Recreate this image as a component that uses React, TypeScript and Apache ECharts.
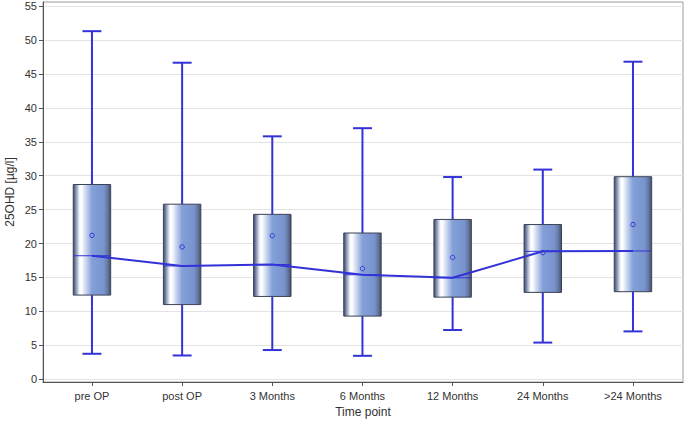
import React, { useEffect, useRef } from "react";
import * as echarts from "echarts";

const categories = ["pre OP", "post OP", "3 Months", "6 Months", "12 Months", "24 Months", ">24 Months"];
const whiskerLow = [3.75, 3.5, 4.3, 3.45, 7.25, 5.4, 7.05];
const q1 = [12.4, 11.0, 12.2, 9.3, 12.1, 12.8, 12.9];
const median = [18.2, 16.7, 16.9, 15.4, 14.95, 18.85, 18.9];
const q3 = [28.7, 25.8, 24.3, 21.55, 23.55, 22.8, 29.85];
const whiskerHigh = [51.3, 46.65, 35.8, 37.0, 29.8, 30.9, 46.8];
const mean = [21.2, 19.5, 21.15, 16.3, 17.95, 18.65, 22.8];
const yTicks = [0, 5, 10, 15, 20, 25, 30, 35, 40, 45, 50, 55];

const BLUE = "#3232d8";
const FONT = "Liberation Sans, Arial, sans-serif";

export default function App() {
  const ref = useRef<HTMLDivElement>(null);
  useEffect(() => {
    if (!ref.current) return;
    const chart = echarts.init(ref.current, null, { renderer: "svg" });
    const idx = categories.map((_, i) => i);
    const boxData = idx.map((i) => [i, whiskerLow[i], q1[i], median[i], q3[i], whiskerHigh[i], mean[i]]);
    const renderItem = (params: any, api: any) => {
      const x = api.value(0);
      const pLow = api.coord([x, api.value(1)]);
      const pQ1 = api.coord([x, api.value(2)]);
      const pMed = api.coord([x, api.value(3)]);
      const pQ3 = api.coord([x, api.value(4)]);
      const pHigh = api.coord([x, api.value(5)]);
      const pMean = api.coord([x, api.value(6)]);
      const halfW = api.size([0.415, 0])[0] / 2;
      const capHalf = api.size([0.21, 0])[0] / 2;
      const cx = pMed[0];
      const lineStyle = { stroke: BLUE, lineWidth: 2 };
      const grad = new echarts.graphic.LinearGradient(0, 0, 1, 0, [
        { offset: 0, color: "#3f4966" },
        { offset: 0.05, color: "#6d7ca0" },
        { offset: 0.17, color: "#f6f8fc" },
        { offset: 0.22, color: "#ffffff" },
        { offset: 0.5, color: "#84a0d8" },
        { offset: 0.82, color: "#7893cd" },
        { offset: 0.92, color: "#63779f" },
        { offset: 1, color: "#454f6a" },
      ]);
      return {
        type: "group",
        children: [
          { type: "line", shape: { x1: cx, y1: pQ3[1], x2: cx, y2: pHigh[1] }, style: lineStyle },
          { type: "line", shape: { x1: cx, y1: pQ1[1], x2: cx, y2: pLow[1] }, style: lineStyle },
          { type: "line", shape: { x1: cx - capHalf, y1: pHigh[1], x2: cx + capHalf, y2: pHigh[1] }, style: lineStyle },
          { type: "line", shape: { x1: cx - capHalf, y1: pLow[1], x2: cx + capHalf, y2: pLow[1] }, style: lineStyle },
          {
            type: "rect",
            shape: { x: cx - halfW, y: pQ3[1], width: halfW * 2, height: pQ1[1] - pQ3[1] },
            style: { fill: grad, stroke: "#3c4356", lineWidth: 1 },
          },
          { type: "line", shape: { x1: cx - halfW, y1: pMed[1], x2: cx + halfW, y2: pMed[1] }, style: { stroke: BLUE, lineWidth: 1 } },
          { type: "circle", shape: { cx: pMean[0], cy: pMean[1], r: 2.2 }, style: { fill: "none", stroke: BLUE, lineWidth: 1 } },
        ],
      };
    };
    chart.setOption({
      animation: false,
      backgroundColor: "#ffffff",
      grid: {
        left: 43,
        right: 2,
        top: 2,
        bottom: 39,
        show: true,
        borderColor: "#9a9a9a",
        borderWidth: 1,
        containLabel: false,
        outerBoundsMode: "none",
      },
      xAxis: {
        type: "value",
        min: -0.543,
        max: 6.555,
        name: "Time point",
        nameLocation: "middle",
        nameGap: 23,
        nameTextStyle: { fontFamily: FONT, fontSize: 12, color: "#333" },
        axisLine: { show: true, onZero: false, lineStyle: { color: "#555", width: 1 } },
        axisTick: { show: true, length: 4, lineStyle: { color: "#555" }, customValues: idx },
        axisLabel: {
          customValues: idx,
          formatter: (v: number) => categories[Math.round(v)] ?? "",
          fontFamily: FONT,
          fontSize: 11,
          color: "#333",
          margin: 8,
        },
        splitLine: { show: false },
      },
      yAxis: {
        type: "value",
        min: -0.41,
        max: 55.6,
        name: "25OHD [µg/l]",
        nameLocation: "middle",
        nameGap: 27,
        nameMoveOverlap: false,
        nameTextStyle: { fontFamily: FONT, fontSize: 12, color: "#333" },
        axisLine: { show: true, onZero: false, lineStyle: { color: "#555", width: 1 } },
        axisTick: { show: true, length: 4, lineStyle: { color: "#555" }, customValues: yTicks },
        axisLabel: { customValues: yTicks, fontFamily: FONT, fontSize: 11, color: "#333", margin: 6 },
        splitLine: { show: false },
      },
      series: [
        {
          type: "line",
          data: yTicks.map((t) => [0, t]),
          symbol: "none",
          lineStyle: { opacity: 0, width: 0 },
          silent: true,
          z: 0,
          markLine: {
            silent: true,
            z: 0,
            symbol: ["none", "none"],
            label: { show: false },
            lineStyle: { color: "#e3e3e3", width: 1, type: "solid" },
            data: yTicks.map((t) => ({ yAxis: t })),
          },
        },
        {
          type: "custom",
          renderItem,
          data: boxData,
          encode: { x: 0, y: [1, 2, 3, 4, 5, 6] },
          z: 2,
        },
        {
          type: "line",
          data: idx.map((i) => [i, median[i]]),
          symbol: "none",
          lineStyle: { color: BLUE, width: 2 },
          z: 3,
        },
      ],
    });
    return () => chart.dispose();
  }, []);
  return <div ref={ref} style={{ width: 685, height: 421, position: "absolute", left: 0, top: 0 }} />;
}
